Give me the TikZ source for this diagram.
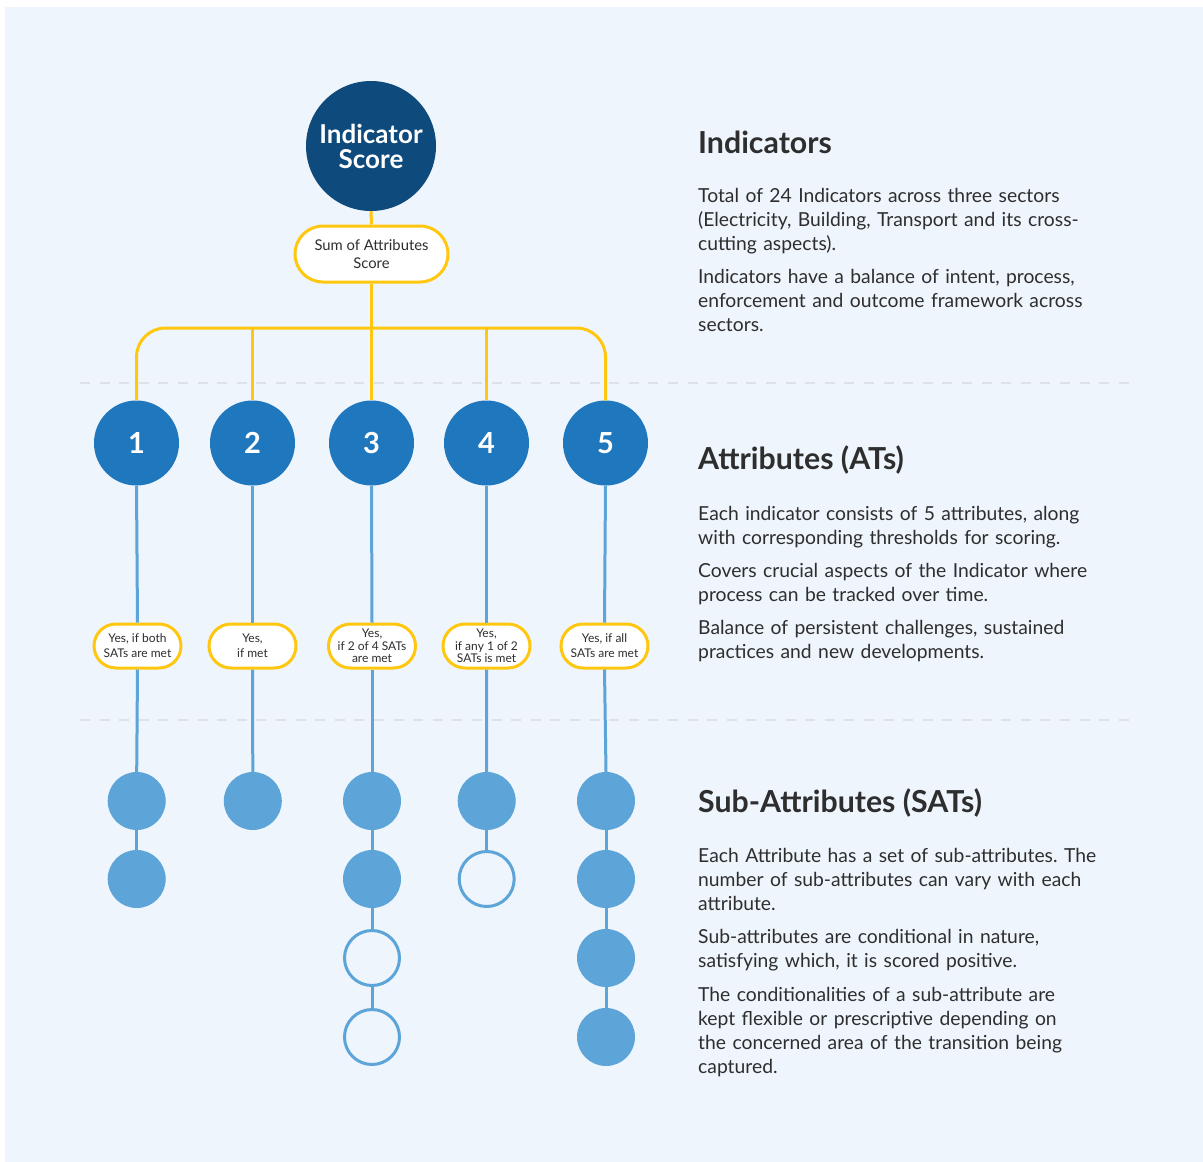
\documentclass[tikz,border=0pt]{standalone}
\usepackage{fontspec}
\setmainfont{Lato}
\frenchspacing
\usetikzlibrary{shapes.misc}
\definecolor{bgc}{HTML}{EEF5FC}
\definecolor{darkb}{HTML}{0E4A7B}
\definecolor{midb}{HTML}{1F77BD}
\definecolor{lightb}{HTML}{5DA5D8}
\definecolor{yel}{HTML}{FFC70F}
\definecolor{txt}{HTML}{2E2E2E}
\definecolor{dashc}{HTML}{DDE2E8}
\tikzset{
  bigc/.style={circle, fill=darkb, minimum size=130pt, inner sep=0pt, text=white, align=center,
    font=\bfseries\fontsize{26}{25}\selectfont},
  attc/.style={circle, fill=midb, minimum size=85pt, inner sep=0pt, text=white,
    font=\bfseries\fontsize{29}{29}\selectfont},
  sumpill/.style={rounded rectangle, draw=yel, line width=3pt, fill=white, minimum width=157pt,
    minimum height=56pt, inner sep=2pt, align=center, text=txt, font=\fontsize{14.8}{18}\selectfont},
  spill/.style={rounded rectangle, draw=yel, line width=3pt, fill=white, minimum width=89pt,
    minimum height=44pt, inner sep=1pt, align=center, text=txt, font=\fontsize{12}{15}\selectfont},
  spillt/.style={spill, font=\fontsize{12}{12.5}\selectfont},
  satf/.style={circle, fill=lightb, minimum size=58pt, inner sep=0pt},
  sate/.style={circle, draw=lightb, line width=3pt, fill=bgc, minimum size=55pt, inner sep=0pt},
  yl/.style={draw=yel, line width=3pt},
  bl/.style={draw=lightb, line width=3pt},
  sep/.style={draw=dashc, line width=2.5pt, dash pattern=on 10pt off 9.6pt},
  head/.style={anchor=base west, inner sep=0pt, text=txt, font=\bfseries\fontsize{30.3}{32}\selectfont},
  para/.style={anchor=base west, inner sep=0pt, text=txt, text width=440pt, align=left,
    font=\fontsize{19.3}{24}\selectfont}
}
\begin{document}
\begin{tikzpicture}[x=1pt, y=-1pt]
\useasboundingbox (0,0) rectangle (1203,1162);
\fill[white] (0,0) rectangle (1203,1162);
\fill[bgc] (5,7) rectangle (1203,1162);

% separators
\coordinate (d1a) at (80,383); \coordinate (d1b) at (1130,383);
\coordinate (d2a) at (80,720); \coordinate (d2b) at (1130,720);
\draw[sep] (d1a) -- (d1b);
\draw[sep] (d2a) -- (d2b);

% top
\node[bigc] (ind) at (371,146) {Indicator\\Score};
\node[sumpill] (sum) at (371.5,254) {Sum of Attributes\\Score};

% attributes
\node[attc] (a1) at (136.5,443) {1};
\node[attc] (a2) at (252.5,443) {2};
\node[attc] (a3) at (371.5,443) {3};
\node[attc] (a4) at (486.5,443) {\raisebox{-2.5pt}{4}};
\node[attc] (a5) at (605.5,443) {\raisebox{-2.5pt}{5}};

\coordinate (bar) at (371.5,328);
\draw[yl] (ind.south) -- (sum.north);
\draw[yl] (sum.south) -- (a3.north);
\draw[yl, rounded corners=29pt] (a1.north) -- (a1.north |- bar) -- (a5.north |- bar) -- (a5.north);
\draw[yl] (a2.north |- bar) -- (a2.north);
\draw[yl] (a4.north |- bar) -- (a4.north);

% condition pills
\node[spill]  (y1) at (137.5,646) {Yes, if both\\SATs are met};
\node[spill]  (y2) at (252.5,646) {Yes,\\if met};
\node[spillt] (y3) at (372,646) {Yes,\\if 2 of 4 SATs\\are met};
\node[spillt] (y4) at (486.5,646) {Yes,\\if any 1 of 2\\SATs is met};
\node[spill]  (y5) at (604.5,646) {Yes, if all\\SATs are met};

% sub-attributes
\node[satf] (s11) at (136.7,801) {};
\node[satf] (s12) at (136.7,879) {};
\node[satf] (s21) at (252.8,801) {};
\node[satf] (s31) at (372,801) {};
\node[satf] (s32) at (372,879) {};
\node[sate] (s33) at (372,958) {};
\node[sate] (s34) at (372,1037) {};
\node[satf] (s41) at (486.7,801) {};
\node[sate] (s42) at (486.7,879) {};
\node[satf] (s51) at (606,801) {};
\node[satf] (s52) at (606,879) {};
\node[satf] (s53) at (606,958) {};
\node[satf] (s54) at (606,1037) {};

\draw[bl] (a1.south) -- (y1.north);
\draw[bl] (a2.south) -- (y2.north);
\draw[bl] (a3.south) -- (y3.north);
\draw[bl] (a4.south) -- (y4.north);
\draw[bl] (a5.south) -- (y5.north);
\draw[bl] (y1.south) -- (s11.north);
\draw[bl] (s11.south) -- (s12.north);
\draw[bl] (y2.south) -- (s21.north);
\draw[bl] (y3.south) -- (s31.north);
\draw[bl] (s31.south) -- (s32.north);
\draw[bl] (s32.south) -- (s33.north);
\draw[bl] (s33.south) -- (s34.north);
\draw[bl] (y4.south) -- (s41.north);
\draw[bl] (s41.south) -- (s42.north);
\draw[bl] (y5.south) -- (s51.north);
\draw[bl] (s51.south) -- (s52.north);
\draw[bl] (s52.south) -- (s53.north);
\draw[bl] (s53.south) -- (s54.north);

% right-hand text
\node[head] (h1) at (698,153) {Indicators};
\node[para] (p1) at (698,202) {Total of 24 Indicators across three sectors\\(Electricity, Building, Transport and its cross-\\cutting aspects).};
\node[para] (p2) at (698,283) {Indicators have a balance of intent, process,\\enforcement and outcome framework across\\sectors.};

\node[head] (h2) at (698,469) {Attributes (ATs)};
\node[para] (p3) at (698,520) {Each indicator consists of 5 attributes, along\\with corresponding thresholds for scoring.};
\node[para] (p4) at (698,577) {Covers crucial aspects of the Indicator where\\process can be tracked over time.};
\node[para] (p5) at (698,634) {Balance of persistent challenges, sustained\\practices and new developments.};

\node[head] (h3) at (698,812) {Sub-Attributes (SATs)};
\node[para] (p6) at (698,862) {Each Attribute has a set of sub-attributes. The\\number of sub-attributes can vary with each\\attribute.};
\node[para] (p7) at (698,943) {Sub-attributes are conditional in nature,\\satisfying which, it is scored positive.};
\node[para] (p8) at (698,1001) {The conditionalities of a sub-attribute are\\kept flexible or prescriptive depending on\\the concerned area of the transition being\\captured.};
\end{tikzpicture}
\end{document}
